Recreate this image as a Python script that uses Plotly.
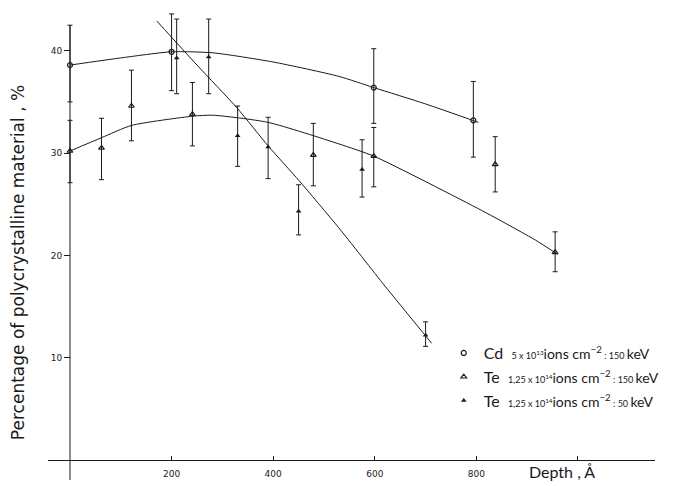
import plotly.graph_objects as go

# ---------------- data ----------------
# Cd 5x10^13 ions cm^-2 : 150 keV  (open circles)
cd_x = [0, 200, 598, 794]
cd_y = [38.6, 39.9, 36.4, 33.2]
cd_hi = [42.5, 43.6, 40.2, 37.0]
cd_lo = [35.0, 36.1, 32.9, 29.6]

# Te 1.25x10^14 ions cm^-2 : 150 keV  (open triangles)
te150_x = [0, 62, 121, 241, 479, 598, 837, 955]
te150_y = [30.2, 30.5, 34.6, 33.8, 29.8, 29.7, 28.9, 20.3]
te150_hi = [33.2, 33.4, 38.1, 36.9, 32.9, 32.5, 31.6, 22.3]
te150_lo = [27.1, 27.4, 31.2, 30.7, 26.8, 26.7, 26.2, 18.4]

# Te 1.25x10^14 ions cm^-2 : 50 keV  (filled triangles)
te50_x = [210, 273, 330, 390, 450, 575, 700]
te50_y = [39.3, 39.4, 31.7, 30.6, 24.3, 28.4, 12.2]
te50_hi = [43.1, 43.1, 34.6, 33.5, 26.9, 31.3, 13.5]
te50_lo = [35.8, 35.8, 28.7, 27.5, 22.0, 25.7, 11.1]

# hand-drawn fitted curves
cd_fit_x = [0, 100, 200, 281, 400, 529, 598, 700, 804]
cd_fit_y = [38.6, 39.3, 39.9, 39.8, 38.9, 37.5, 36.4, 34.8, 33.0]
te150_fit_x = [0, 62, 121, 241, 281, 390, 529, 598, 810, 916, 960]
te150_fit_y = [30.2, 31.5, 32.7, 33.6, 33.7, 33.0, 30.9, 29.7, 24.4, 21.5, 20.1]
te50_fit_x = [171, 250, 329, 390, 451, 529, 620, 712]
te50_fit_y = [42.9, 38.6, 34.4, 30.7, 27.3, 22.7, 17.0, 11.4]

x_tickvals = [200, 400, 600, 800, 1000]
x_ticktext = ["200", "400", "600", "800", ""]
y_tickvals = [10, 20, 30, 40]

FONT = "Lato"
INK = "#1a1a1a"


def err(y, hi, lo):
    return dict(type="data", symmetric=False,
                array=[h - v for h, v in zip(hi, y)],
                arrayminus=[v - l for l, v in zip(lo, y)],
                color=INK, thickness=1, width=2.5)


def label(elem, num, power, energy):
    s8 = "font-size:9px"
    s13 = "font-size:14px"
    return (f"{elem}  <span style='{s8}'>{num} x 10<sup>{power}</sup></span>"
            f"<span style='{s13}'>ions cm<sup>−2</sup></span>"
            f"<span style='{s8}'> : {energy} </span><span style='{s13}'>keV</span>")


fig = go.Figure()

# fitted curves
for fx, fy in [(cd_fit_x, cd_fit_y), (te150_fit_x, te150_fit_y), (te50_fit_x, te50_fit_y)]:
    fig.add_trace(go.Scatter(x=fx, y=fy, mode="lines", showlegend=False,
                             line=dict(color=INK, width=1, shape="spline", smoothing=0.6),
                             hoverinfo="skip"))

fig.add_trace(go.Scatter(
    x=cd_x, y=cd_y, mode="markers", error_y=err(cd_y, cd_hi, cd_lo),
    marker=dict(symbol="circle-open", size=5, color=INK, line=dict(width=1.2)),
    name=label("Cd", "5", "13", "150")))
fig.add_trace(go.Scatter(
    x=te150_x, y=te150_y, mode="markers", error_y=err(te150_y, te150_hi, te150_lo),
    marker=dict(symbol="triangle-up-open", size=5, color=INK, line=dict(width=1.2)),
    name=label("Te", "1,25", "14", "150")))
fig.add_trace(go.Scatter(
    x=te50_x, y=te50_y, mode="markers", error_y=err(te50_y, te50_hi, te50_lo),
    marker=dict(symbol="triangle-up", size=5, color=INK),
    name=label("Te", "1,25", "14", "50")))

Y_TOP, Y_BOT = 44.18, -1.96
X_LO, X_HI = -43.3, 1151.6

# the page body adds an 8px offset, so the figure is 8px smaller each way
fig.update_layout(
    width=672, height=478,
    margin=dict(l=40, r=25, t=0, b=6, autoexpand=False),
    paper_bgcolor="white", plot_bgcolor="white",
    font=dict(family=FONT, color=INK),
    showlegend=True,
    legend=dict(x=0.652, y=0.305, xanchor="left", yanchor="top",
                font=dict(size=16, family=FONT, color=INK),
                bgcolor="rgba(0,0,0,0)", itemsizing="trace",
                tracegroupgap=4),
    xaxis=dict(range=[X_LO, X_HI], anchor="free",
               position=(0 - Y_BOT) / (Y_TOP - Y_BOT), automargin=False,
               showline=True, linecolor=INK, linewidth=1,
               showgrid=False, zeroline=False,
               tickvals=x_tickvals, ticktext=x_ticktext,
               ticks="inside", ticklen=4, tickcolor=INK, ticklabelstandoff=5,
               tickfont=dict(size=9, family="DejaVu Sans", color=INK)),
    yaxis=dict(range=[Y_BOT, Y_TOP], anchor="free", automargin=False,
               position=(0 - X_LO) / (X_HI - X_LO),
               showline=False, showgrid=False, zeroline=False,
               tickvals=y_tickvals, ticks="outside", ticklen=6, tickcolor=INK,
               tickfont=dict(size=9, family="DejaVu Sans", color=INK)),
)

# y axis line (from bottom of frame up to top of the first error bar)
fig.add_shape(type="line", xref="x", yref="paper", x0=0, x1=0,
              y0=0, y1=(42.5 - Y_BOT) / (Y_TOP - Y_BOT),
              line=dict(color=INK, width=1))

fig.add_annotation(text="Percentage of polycrystalline material , %",
                   xref="paper", yref="paper", x=-0.049, y=0.46,
                   xanchor="center", yanchor="middle",
                   textangle=-90, showarrow=False,
                   font=dict(size=17, family="DejaVu Sans", color=INK))
fig.add_annotation(text="Depth , Å", xref="paper", yref="paper",
                   x=0.847, y=0.017, xanchor="center", yanchor="middle",
                   showarrow=False,
                   font=dict(size=16, family=FONT, color=INK))

fig.write_html("out.html")
